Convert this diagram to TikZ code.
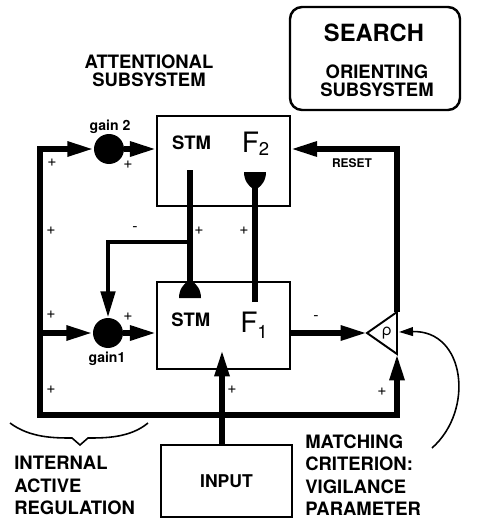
\documentclass[tikz,border=0pt]{standalone}
\usepackage{fontspec}
\setmainfont{TeX Gyre Heros}
\usetikzlibrary{arrows.meta}

\begin{document}
\begin{tikzpicture}[x=0.02cm,y=-0.02cm,
  box/.style={draw,line width=0.8pt,inner sep=0},
  heavy/.style={line width=3.2pt},
  gain/.style={circle,fill,minimum size=0.6cm,inner sep=0},
  caps/.style={font=\bfseries\fontsize{10.5}{12.8}\selectfont,align=left,inner sep=0},
  tiny/.style={font=\bfseries\fontsize{8}{9}\selectfont,inner sep=0},
  sign/.style={font=\fontsize{9}{9}\selectfont,inner sep=0},
  flabel/.style={font=\fontsize{16}{16}\selectfont,inner sep=0},
  >={Triangle[length=15pt,width=8pt]},
  bell/.pic={\fill (-11,0) .. controls (-11,-9) and (-6,-14) .. (-3,-16) -- (3,-16) .. controls (6,-14) and (11,-9) .. (11,0) -- cycle;}]

  \useasboundingbox (0,0) rectangle (481,521);

  \node[box,line width=1.4pt,rounded corners=0.24cm,minimum width=3.4cm,minimum height=2.06cm] (search) at (375,58.5) {};
  \node[font=\bfseries\fontsize{13.5}{14}\selectfont,inner sep=0] (srch) at (374,33) {SEARCH};
  \node[caps,align=center,font=\bfseries\fontsize{10.5}{10.4}\selectfont] (orient) at (377,81) {ORIENTING\\SUBSYSTEM};
  \node[caps,align=center,font=\bfseries\fontsize{10.5}{10.1}\selectfont] (attn) at (149,70.5) {ATTENTIONAL\\SUBSYSTEM};

  \node[box,minimum width=2.66cm,minimum height=1.8cm] (f2) at (223.5,161) {};
  \node[box,minimum width=2.66cm,minimum height=1.74cm] (f1) at (223.5,325.5) {};
  \node[box,minimum width=2.62cm,minimum height=1.44cm,font=\bfseries\fontsize{10}{12}\selectfont] (input) at (226.5,481) {INPUT};

  \node[caps] (stm2) at (191.5,143) {STM};
  \node[caps] (stm1) at (190.8,320) {STM};
  \node[flabel] (f2lab) at (255.5,144) {F\raisebox{-1.5pt}{\fontsize{10.5}{10}\selectfont 2}};
  \node[flabel] (f1lab) at (254,325) {F\raisebox{-3.5pt}{\fontsize{10.5}{10}\selectfont 1}};

  \node[gain] (g2) at (109,149) {};
  \node[gain] (g1) at (108,333) {};
  \node[tiny] (g2lab) at (110,127) {gain 2};
  \node[tiny] (g1lab) at (107,359) {gain1};

  \coordinate (lt) at (40,149);
  \coordinate (lb) at (40,415);
  \coordinate (rb) at (397,415);
  \coordinate (rt) at (397,149);
  \coordinate (rtip) at (367,333);
  \coordinate (rtop) at (397,312);
  \coordinate (rbot) at (397,354);
  \coordinate (rright) at (399,332);
  \coordinate (split) at (190,242);
  \coordinate (f2stm) at (190,170);
  \coordinate (f1bell) at (190,298);
  \coordinate (f1up) at (255,302);
  \coordinate (f2cup) at (255,172);
  \coordinate (inarr) at (222,350);
  \coordinate (vig) at (432,448);

  \draw[line width=1.1pt] (rtip) -- (rtop) -- (rbot) -- cycle;
  \node[font=\fontsize{9}{9}\selectfont,inner sep=0] (rho) at (387,333) {ρ};

  \draw[heavy,<->] (rbot) -- (rb) -- (lb) -- (lt) -- (g2.west);
  \draw[heavy,->] (lt |- g1) -- (g1.west);
  \draw[heavy,->] (g2.east) -- (f2.west |- g2);
  \draw[heavy,->] (g1.east) -- (f1.west |- g1);
  \draw[heavy,->] (input.north -| inarr) -- (inarr);
  \draw[heavy,->] (f1.east |- rtip) -- (rtip);
  \draw[heavy,->] (rtop) -- (rt) -- (f2.east |- rt);
  \draw[heavy] (f2stm) -- (f1bell);
  \draw[line width=2.6pt,->] (split) -| (g1.north);
  \draw[heavy] (f1up) -- (f2cup);
  \pic at (f1bell) {bell};
  \pic[rotate=180] at (f2cup) {bell};
  \draw[line width=0.9pt,-{Triangle[length=8pt,width=5pt]}] (vig) .. controls (475,410) and (465,330) .. (rright);

  \node[tiny,font=\bfseries\fontsize{6.8}{8}\selectfont] (reset) at (352,163) {RESET};
  \draw[line width=0.9pt] (10,423) .. controls (30,438) and (55,438) .. (72,438) -- (80,445) -- (88,438) .. controls (105,438) and (130,438) .. (148,423);
  \node[caps,anchor=north west] (intreg) at (14,456) {INTERNAL\\ACTIVE\\REGULATION};
  \node[caps,anchor=north west] (match) at (305,434) {MATCHING\\CRITERION:\\VIGILANCE\\PARAMETER};

  \foreach \px/\py [count=\i] in {52/163,128/165,51/231,199/231,244/231,51/315,128/317,51/390,232/390,382/392}
    \node[sign] (plus\i) at (\px,\py) {+};
  \node[sign] (minus1) at (135,229) {-};
  \node[sign] (minus2) at (316,318) {-};
\end{tikzpicture}
\end{document}
